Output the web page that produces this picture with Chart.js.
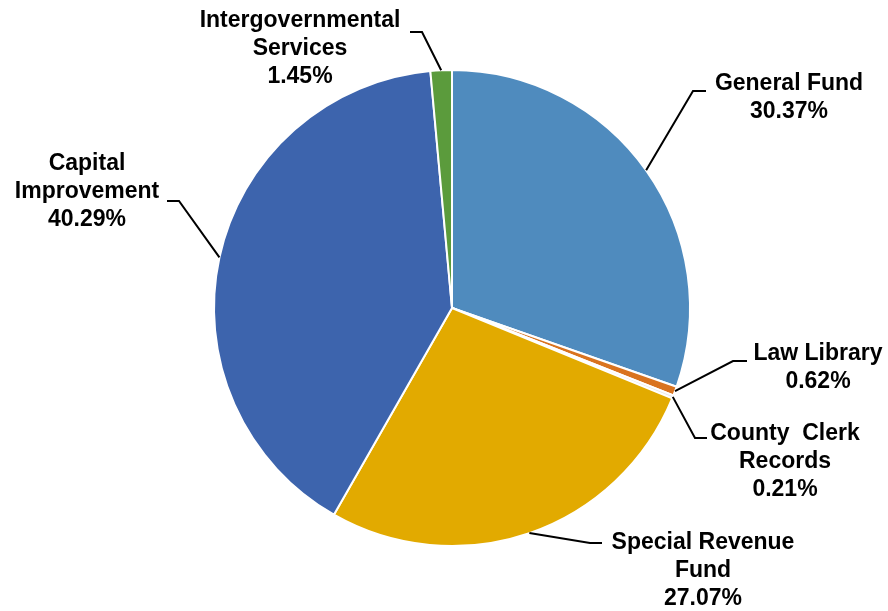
<!DOCTYPE html>
<html>
<head>
<meta charset="utf-8">
<script src="https://cdn.jsdelivr.net/npm/chart.js@4.4.1/dist/chart.umd.min.js"></script>
<style>
  html, body { margin: 0; padding: 0; background: #fff; }
  #wrap { width: 888px; height: 611px; position: relative; }
</style>
</head>
<body>
<div id="wrap"><canvas id="fundChart"></canvas></div>
<script>
const funds = [
    ['General Fund'],
    ['Law Library'],
    ['County  Clerk', 'Records'],
    ['Special Revenue', 'Fund'],
    ['Capital', 'Improvement'],
    ['Intergovernmental', 'Services']
];
const shares = [30.37, 0.62, 0.21, 27.07, 40.29, 1.45];
const sliceColors = ['#4F8BBE', '#D9731F', '#EBEBEB', '#E2AA00', '#3D64AD', '#5B9B3C'];

// label placement relative to pie centre: elbow point, line end, first text line centre
const labelLayout = [
    { elbow: [241, -217], end: [254, -217], text: [337, -224] },
    { elbow: [281, 53],   end: [295, 53],   text: [366, 46] },
    { elbow: [243, 130],  end: [255, 130],  text: [333, 126] },
    { elbow: [138, 235],  end: [150, 235],  text: [251, 235] },
    { elbow: [-273, -107], end: [-285, -107], text: [-365, -144] },
    { elbow: [-30, -276], end: [-42, -276], text: [-152, -287] }
];

const leaderLabels = {
    id: 'leaderLabels',
    afterDraw(chart) {
        const ctx = chart.ctx;
        const arcs = chart.getDatasetMeta(0).data;
        ctx.save();
        ctx.font = 'bold 23px "Liberation Sans", Arial, sans-serif';
        ctx.fillStyle = '#000';
        ctx.strokeStyle = '#000';
        ctx.lineWidth = 2;
        ctx.textAlign = 'center';
        ctx.textBaseline = 'middle';
        arcs.forEach((arc, i) => {
            const cx = arc.x, cy = arc.y;
            const mid = (arc.startAngle + arc.endAngle) / 2;
            const r = arc.outerRadius;
            const lay = labelLayout[i];
            ctx.beginPath();
            ctx.moveTo(cx + Math.cos(mid) * r, cy + Math.sin(mid) * r);
            ctx.lineTo(cx + lay.elbow[0], cy + lay.elbow[1]);
            ctx.lineTo(cx + lay.end[0], cy + lay.end[1]);
            ctx.stroke();
            const lines = funds[i].concat([shares[i].toFixed(2) + '%']);
            lines.forEach((t, k) => {
                ctx.fillText(t, cx + lay.text[0], cy + lay.text[1] + k * 28);
            });
        });
        ctx.restore();
    }
};

const ctx = document.getElementById('fundChart').getContext('2d');
new Chart(ctx, {
    type: 'pie',
    data: {
        labels: funds.map(f => f.join(' ')),
        datasets: [{
            data: shares,
            backgroundColor: sliceColors,
            borderColor: '#ffffff',
            borderWidth: 2
        }]
    },
    options: {
        responsive: true,
        maintainAspectRatio: false,
        animation: false,
        layout: {
            padding: { top: 69, bottom: 64, left: 213, right: 197 }
        },
        plugins: {
            legend: { display: false },
            tooltip: { enabled: false }
        }
    },
    plugins: [leaderLabels]
});
</script>
</body>
</html>
